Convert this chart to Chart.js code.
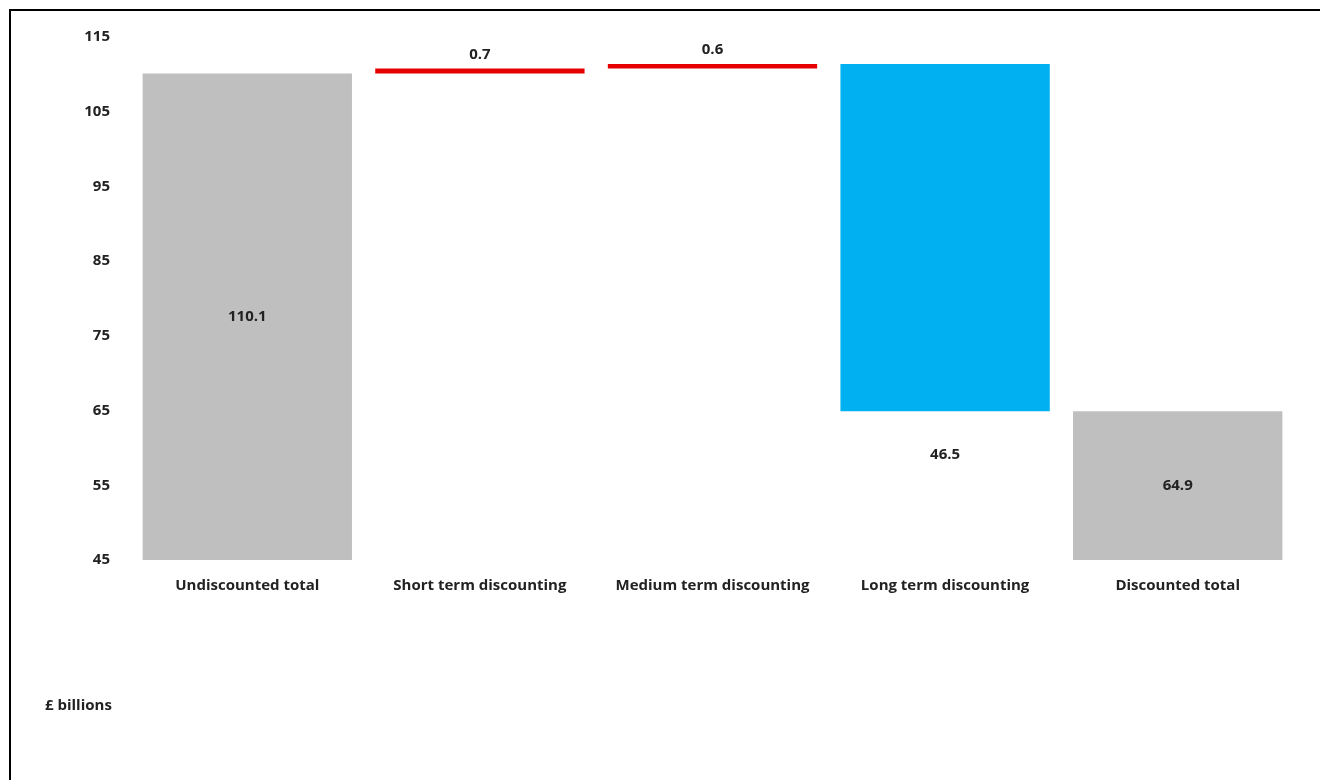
<!DOCTYPE html>
<html>
<head>
<meta charset="utf-8">
<script src="https://cdn.jsdelivr.net/npm/chart.js@4/dist/chart.umd.min.js"></script>
<style>
  html, body { margin: 0; padding: 0; background: #fff; overflow: hidden; }
  #wrap { position: relative; width: 1320px; height: 780px; }
  #frame { position: absolute; left: 9px; top: 9px; width: 1340px; height: 800px; border: 2px solid #000; }
  #unit { position: absolute; left: 45px; top: 694px; font: bold 15px "Open Sans", sans-serif; color: #222; }
  canvas { position: absolute; left: 0; top: 0; }
</style>
</head>
<body>
<div id="wrap">
  <div id="frame"></div>
  <canvas id="chart" width="1320" height="780"></canvas>
  <div id="unit">£ billions</div>
</div>
<script>
// waterfall: totals start at zero, steps float on the running total
const categories = ['Undiscounted total', 'Short term discounting', 'Medium term discounting', 'Long term discounting', 'Discounted total'];
const values = [110.1, 0.7, 0.6, -46.5, 64.9];
const isTotal = [true, false, false, false, true];
const barColors = ['#bfbfbf', '#e60000', '#e60000', '#00b0f0', '#bfbfbf'];
const yTicks = [45, 55, 65, 75, 85, 95, 105, 115];

let running = 0;
const ranges = values.map((v, i) => {
  if (isTotal[i]) { running = v; return [0, v]; }
  const start = running;
  running = +(running + v).toFixed(1);
  return [start, running];
});

const fontFamily = '"Open Sans", sans-serif';

const valueLabels = {
  id: 'valueLabels',
  afterDatasetsDraw(chart) {
    const ctx = chart.ctx;
    const meta = chart.getDatasetMeta(0);
    const yScale = chart.scales.y;
    ctx.save();
    ctx.font = 'bold 15px ' + fontFamily;
    ctx.fillStyle = '#222';
    ctx.textAlign = 'center';
    ctx.textBaseline = 'middle';
    meta.data.forEach((bar, i) => {
      const lo = yScale.getPixelForValue(Math.max(Math.min(...ranges[i]), yScale.min));
      const hi = yScale.getPixelForValue(Math.max(...ranges[i]));
      let y;
      if (isTotal[i]) y = (lo + hi) / 2;
      else if (values[i] > 0) y = hi - 14;
      else y = lo + 43;
      ctx.fillText(Math.abs(values[i]).toFixed(1), bar.x, y);
    });
    ctx.restore();
  }
};

new Chart(document.getElementById('chart'), {
  type: 'bar',
  data: {
    labels: categories,
    datasets: [{
      data: ranges,
      backgroundColor: barColors,
      borderWidth: 0,
      categoryPercentage: 0.9,
      barPercentage: 1.0
    }]
  },
  options: {
    responsive: false,
    animation: false,
    layout: { padding: { top: 37, right: 26, bottom: 180, left: 0 } },
    plugins: { legend: { display: false }, tooltip: { enabled: false } },
    scales: {
      x: {
        grid: { display: false, drawTicks: false },
        border: { display: false },
        ticks: { color: '#222', padding: 17, font: { family: fontFamily, size: 15, weight: 'bold' } },
        afterFit(scale) { scale.height = 40; }
      },
      y: {
        min: 45,
        max: 115,
        grid: { display: false, drawTicks: false },
        border: { display: false },
        afterBuildTicks(scale) { scale.ticks = yTicks.map(v => ({ value: v })); },
        ticks: { color: '#222', padding: 21, font: { family: fontFamily, size: 15, weight: 'bold' } },
        afterFit(scale) { scale.width = 131; }
      }
    }
  },
  plugins: [valueLabels]
});
</script>
</body>
</html>
